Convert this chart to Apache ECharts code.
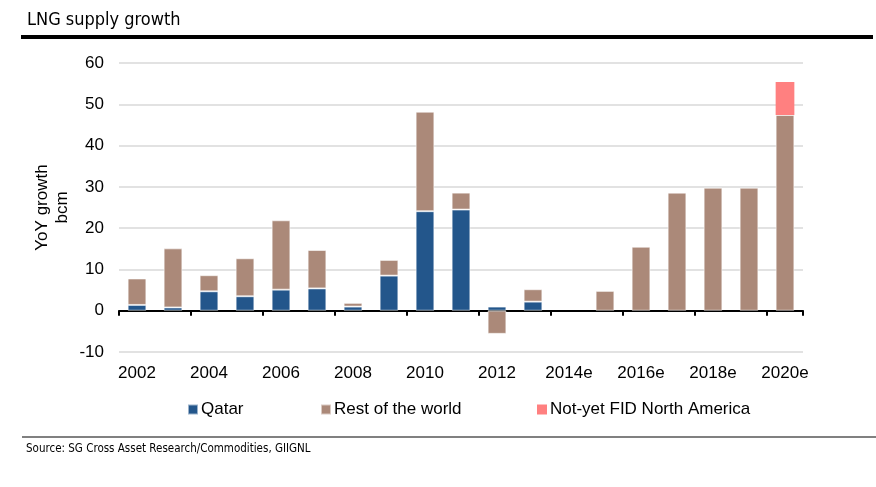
<!DOCTYPE html>
<html>
<head>
<meta charset="utf-8">
<script src="https://cdn.jsdelivr.net/npm/echarts@6/dist/echarts.min.js"></script>
<style>
html,body{margin:0;padding:0;background:#fff;}
#chart{width:876px;height:487px;}
</style>
</head>
<body>
<div id="chart"></div>
<script>
var categories = ['2002','2003','2004','2005','2006','2007','2008','2009','2010','2011','2012','2013','2014e','2015e','2016e','2017e','2018e','2019e','2020e'];
var qatar = [1.4, 0.8, 4.7, 3.5, 5.1, 5.4, 1.0, 8.5, 24.1, 24.5, 1.0, 2.2, null, null, null, null, null, null, null];
var restOfWorld = [6.4, 14.3, 3.9, 9.2, 16.8, 9.3, 0.9, 3.8, 24.1, 4.1, -5.6, 3.0, null, 4.8, 15.5, 28.6, 29.8, 29.8, 47.4];
var notYetFID = [null, null, null, null, null, null, null, null, null, null, null, null, null, null, null, null, null, null, 8.0];
var yTicks = {min: -10, max: 60, interval: 10};

var FONT = '"Liberation Sans", Arial, sans-serif';
var chart = echarts.init(document.getElementById('chart'), null, {renderer: 'canvas'});
var barBorder = {borderColor: 'rgba(255,255,255,0.55)', borderWidth: 1};
var option = {
  animation: false,
  backgroundColor: '#fff',
  title: {
    text: 'LNG supply growth',
    left: 22, top: 6,
    textStyle: {fontFamily: '"DejaVu Sans Condensed", sans-serif', fontSize: 18, fontWeight: 'normal', color: '#000'}
  },
  graphic: [
    {type: 'rect', shape: {x: 21, y: 35, width: 852, height: 4}, style: {fill: '#000'}},
    {type: 'rect', shape: {x: 22, y: 436, width: 854, height: 2}, style: {fill: '#808080'}},
    {type: 'text', left: 26, top: 443, style: {text: 'Source: SG Cross Asset Research/Commodities, GIIGNL', font: '11.5px "DejaVu Sans Condensed", sans-serif', fill: '#000'}}
  ],
  legend: [
    {data: ['Qatar'], left: 182, top: 396, itemWidth: 10, itemHeight: 10, itemGap: 0, icon: 'rect',
     textStyle: {fontFamily: FONT, fontSize: 17, color: '#000', padding: [0,0,0,-2]}},
    {data: ['Rest of the world'], left: 315, top: 396, itemWidth: 10, itemHeight: 10, icon: 'rect',
     textStyle: {fontFamily: FONT, fontSize: 17, color: '#000', padding: [0,0,0,-2]}},
    {data: ['Not-yet FID North America'], left: 532, top: 396, itemWidth: 10, itemHeight: 10, icon: 'rect',
     textStyle: {fontFamily: FONT, fontSize: 17, color: '#000', padding: [0,0,0,-2]}}
  ],
  grid: {left: 119, right: 73, top: 63, bottom: 135, containLabel: false},
  xAxis: [
    {type: 'category', data: categories, position: 'bottom',
     axisLine: {onZero: true, lineStyle: {color: '#000', width: 2}},
     axisTick: {show: true, length: 5, lineStyle: {color: '#000', width: 2}},
     axisLabel: {show: false}, splitLine: {show: false}},
    {type: 'category', data: categories, position: 'bottom', offset: 0,
     axisLine: {show: false, onZero: false}, axisTick: {show: false},
     axisLabel: {interval: 1, fontFamily: FONT, fontSize: 17, color: '#000', margin: 13}}
  ],
  yAxis: {
    type: 'value', min: yTicks.min, max: yTicks.max, interval: yTicks.interval,
    name: 'YoY growth\nbcm', nameLocation: 'middle', nameRotate: 90, nameGap: 47,
    nameMoveOverlap: false,
    nameTextStyle: {fontFamily: FONT, fontSize: 17, color: '#000', lineHeight: 20},
    axisLine: {show: false}, axisTick: {show: false},
    axisLabel: {fontFamily: FONT, fontSize: 17, color: '#000', margin: 15},
    splitLine: {lineStyle: {color: '#d9d9d9', width: 1.5}}
  },
  series: [
    {name: 'Qatar', type: 'bar', stack: 'total', data: qatar, barWidth: '52%', xAxisIndex: 0,
     itemStyle: Object.assign({color: '#23568B'}, barBorder)},
    {name: 'Rest of the world', type: 'bar', stack: 'total', data: restOfWorld, xAxisIndex: 0,
     itemStyle: Object.assign({color: '#AB8979'}, barBorder)},
    {name: 'Not-yet FID North America', type: 'bar', stack: 'total', data: notYetFID, xAxisIndex: 0,
     itemStyle: {color: '#FF8080'}}
  ]
};
chart.setOption(option);
</script>
</body>
</html>
